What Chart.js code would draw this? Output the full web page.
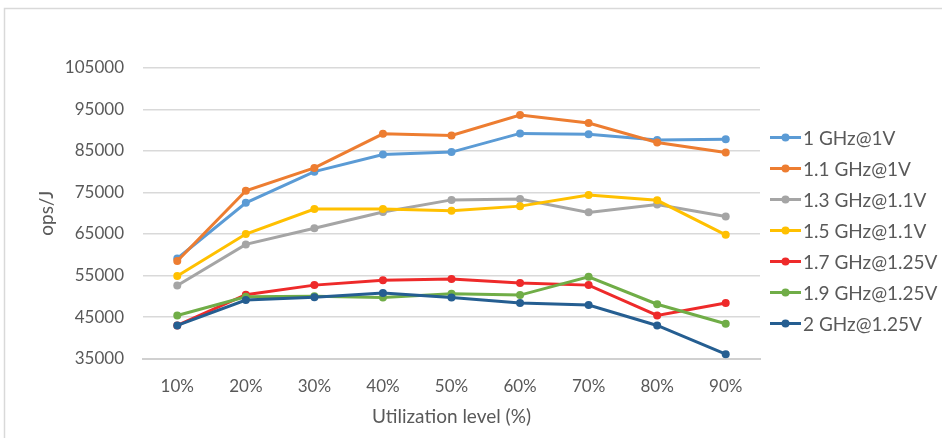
<!DOCTYPE html>
<html>
<head>
<meta charset="utf-8">
<script src="https://cdn.jsdelivr.net/npm/chart.js@4/dist/chart.umd.min.js"></script>
<style>
  html, body { margin: 0; padding: 0; background: #ffffff; }
  #wrap { width: 942px; height: 438px; position: relative; }
</style>
</head>
<body>
<div id="wrap"><canvas id="c" width="942" height="438"></canvas></div>
<script>
// Utilization levels on the x axis
const categories = ['10%', '20%', '30%', '40%', '50%', '60%', '70%', '80%', '90%'];

// Energy efficiency (ops/J) per frequency/voltage setting
const ghz1_0v1_0   = [59100, 72500, 80000, 84100, 84700, 89200, 89000, 87600, 87800];
const ghz1_1v1_0   = [58500, 75400, 80900, 89100, 88700, 93600, 91700, 87000, 84600];
const ghz1_3v1_1   = [52600, 62500, 66400, 70300, 73200, 73400, 70200, 72100, 69200];
const ghz1_5v1_1   = [54900, 65000, 71000, 71000, 70600, 71700, 74400, 73100, 64800];
const ghz1_7v1_25  = [43000, 50400, 52700, 53900, 54200, 53200, 52700, 45400, 48400];
const ghz1_9v1_25  = [45400, 49900, 50000, 49700, 50600, 50300, 54700, 48100, 43400];
const ghz2_0v1_25  = [43000, 49100, 49800, 50800, 49700, 48400, 47900, 43000, 36100];

const seriesNames = ['1 GHz@1V', '1.1 GHz@1V', '1.3 GHz@1.1V', '1.5 GHz@1.1V',
                     '1.7 GHz@1.25V', '1.9 GHz@1.25V', '2 GHz@1.25V'];
const seriesValues = [ghz1_0v1_0, ghz1_1v1_0, ghz1_3v1_1, ghz1_5v1_1,
                      ghz1_7v1_25, ghz1_9v1_25, ghz2_0v1_25];

// Y axis range and step
const yMin = 35000, yMax = 105000, yStep = 10000;

const colors = ['#5B9BD5', '#ED7D31', '#A5A5A5', '#FFC000', '#EE2A2A', '#70AD47', '#255E91'];
const FONT = 'Lato, "Open Sans", sans-serif';
const TEXT = '#595959';

const datasets = seriesValues.map((vals, i) => ({
  label: seriesNames[i],
  data: vals,
  borderColor: colors[i],
  backgroundColor: colors[i],
  borderWidth: 3,
  pointRadius: 4,
  pointHoverRadius: 4,
  pointBorderWidth: 0,
  tension: 0,
  order: seriesValues.length - i
}));

// Frame around the chart area
const framePlugin = {
  id: 'frame',
  beforeDraw(chart) {
    const ctx = chart.ctx;
    ctx.save();
    ctx.fillStyle = '#ffffff';
    ctx.fillRect(0, 0, chart.width, chart.height);
    ctx.strokeStyle = '#d9d9d9';
    ctx.lineWidth = 1.5;
    ctx.strokeRect(4.5, 8.5, 2000, 2000);
    ctx.restore();
  }
};

// Legend column at the right: line + marker, then the series name
const legendPlugin = {
  id: 'sideLegend',
  afterDraw(chart) {
    const ctx = chart.ctx;
    const x0 = 770, x1 = 801, textX = 803;
    const yStart = 137.5, rowGap = 31;
    ctx.save();
    ctx.font = '19px ' + FONT;
    ctx.textBaseline = 'middle';
    ctx.textAlign = 'left';
    chart.data.datasets.forEach((ds, i) => {
      const y = yStart + i * rowGap;
      ctx.strokeStyle = ds.borderColor;
      ctx.lineWidth = 3;
      ctx.beginPath();
      ctx.moveTo(x0, y);
      ctx.lineTo(x1, y);
      ctx.stroke();
      ctx.fillStyle = ds.borderColor;
      ctx.beginPath();
      ctx.arc((x0 + x1) / 2, y, 4, 0, Math.PI * 2);
      ctx.fill();
      ctx.fillStyle = TEXT;
      ctx.fillText(ds.label, textX, y + 1);
    });
    ctx.restore();
  }
};

new Chart(document.getElementById('c'), {
  type: 'line',
  data: { labels: categories, datasets },
  plugins: [framePlugin, legendPlugin],
  options: {
    responsive: false,
    animation: false,
    devicePixelRatio: 1,
    layout: { padding: { left: 25, right: 182, top: 67.7, bottom: 7 } },
    plugins: { legend: { display: false }, tooltip: { enabled: false } },
    scales: {
      x: {
        offset: true,
        grid: { display: false },
        border: { display: true, color: '#d0d0d0', width: 2 },
        ticks: { color: TEXT, font: { family: FONT, size: 17 }, padding: 10 },
        title: {
          display: true, text: 'Utilization level (%)', color: TEXT,
          font: { family: FONT, size: 19 }, padding: { top: 0, bottom: 3 }
        },
        afterFit(scale) { scale.height = 72.3; }
      },
      y: {
        min: yMin, max: yMax,
        grid: { color: '#d9d9d9', lineWidth: 1.5, drawTicks: false },
        border: { display: false },
        ticks: {
          stepSize: yStep, color: TEXT, padding: 19,
          font: { family: FONT, size: 17 },
          callback: v => String(v)
        },
        title: {
          display: true, text: 'ops/J', color: TEXT,
          font: { family: FONT, size: 19 }, padding: { top: 10, bottom: 0 }
        },
        afterFit(scale) { scale.width = 118; }
      }
    }
  }
});
</script>
</body>
</html>
